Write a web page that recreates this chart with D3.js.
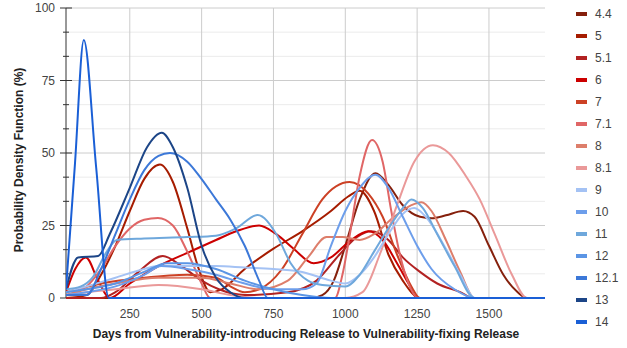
<!DOCTYPE html>
<html>
<head>
<meta charset="utf-8">
<script src="https://cdn.jsdelivr.net/npm/d3@7"></script>
<style>
  body { margin: 0; background: #fff; }
  svg text { font-family: Arial, "Liberation Sans", sans-serif; }
</style>
</head>
<body>
<div id="chart"></div>
<script>
// versions shown in the legend (drawn in this order)
const versions = ["4.4", "5", "5.1", "6", "7", "7.1", "8", "8.1", "9", "10", "11", "12", "12.1", "13", "14"];
const colors = ["#85200c", "#a61c00", "#b22222", "#cc0000", "#cc4125", "#e06666", "#dd7e6b", "#ea9999",
                "#a4c2f4", "#6d9eeb", "#6fa8dc", "#5b95e5", "#3c78d8", "#1c4587", "#1a5fd6"];

// [days, pdf %]
const v44 = [[28,0],[880,0],[920,1],[960,6],[1000,18],[1050,34],[1105,43],[1150,39],[1200,32],[1260,28],[1300,27.5],[1350,28.5],[1410,30],[1450,28],[1500,18],[1550,8],[1600,2],[1632,0],[1695,0]];
const v5 = [[28,0],[100,1],[150,8],[200,18],[250,30],[300,41],[355,46],[400,40],[450,24],[490,10],[530,2],[570,3],[650,10],[750,17],[850,23],[950,30],[1010,35],[1050,37],[1100,30],[1150,15],[1200,6],[1260,0],[1695,0]];
const v51 = [[28,0],[150,0],[200,2],[280,9],[365,14.5],[430,11],[500,6],[560,3],[650,1],[800,2],[900,6],[980,15],[1040,21],[1090,23],[1150,20],[1200,14],[1260,9],[1320,5],[1400,2],[1445,0],[1695,0]];
const v6 = [[28,2],[60,10],[97,14],[140,6],[180,0],[250,5],[350,11],[460,16],[550,20],[620,23],[700,25],[760,22],[820,17],[890,12],[950,14],[1020,20],[1080,23],[1130,20],[1180,12],[1220,5],[1250,0],[1695,0]];
const v7 = [[28,2],[150,5],[300,7],[450,8],[550,7],[600,4],[650,2],[700,3],[780,10],[850,22],[920,34],[1015,40],[1080,36],[1130,28],[1180,15],[1230,4],[1260,0],[1695,0]];
const v71 = [[28,1],[100,4],[150,10],[200,18],[250,24],[300,27],[348,27.6],[400,25],[450,16],[500,5],[530,0],[964,0],[990,8],[1016,22],[1050,42],[1093,54.5],[1130,47],[1160,30],[1190,15],[1220,5],[1253,0],[1695,0]];
const v8 = [[28,1],[100,3],[200,5],[350,7],[500,7],[600,5],[700,3],[800,6],[870,14],[935,21],[990,21],[1050,20],[1100,22],[1170,28],[1230,32],[1265,33],[1300,30],[1350,20],[1400,9],[1450,0],[1695,0]];
const v81 = [[28,1],[100,2],[200,3],[350,4.5],[500,3],[600,1],[700,0],[1000,0],[1060,2],[1120,15],[1180,32],[1240,47],[1305,52.7],[1360,50],[1420,42],[1468,34],[1520,22],[1580,8],[1632,0],[1695,0]];
const v9 = [[28,2],[100,4],[200,7],[300,10],[350,11],[450,11],[550,11],[650,10.5],[750,10],[850,9],[950,6],[1000,5],[1050,8],[1100,14],[1150,22],[1200,29],[1240,31],[1280,28],[1350,17],[1400,8],[1450,0],[1695,0]];
const v10 = [[28,1],[100,2],[200,4],[300,8],[360,11],[450,10],[550,8],[650,5],[750,3],[850,3],[900,5],[950,18],[1000,30],[1050,38],[1105,42.5],[1150,38],[1200,28],[1250,18],[1300,10],[1380,3],[1450,0],[1695,0]];
const v11 = [[28,3],[80,4],[120,7],[170,16],[205,20],[300,20.5],[450,21],[550,21.5],[620,24],[695,28.6],[760,22],[810,12],[870,6],[920,4.5],[1000,4],[1050,8],[1100,16],[1150,24],[1200,31],[1230,34],[1270,31],[1320,22],[1380,11],[1450,0],[1695,0]];
const v12 = [[28,2],[100,3],[200,5],[300,9],[380,12],[450,12],[550,10],[650,6],[750,3],[850,1],[950,0],[1695,0]];
const v121 = [[28,1],[100,1],[150,10],[200,22],[250,34],[300,44],[350,49],[390,50],[450,47],[500,41],[550,34],[600,27],[650,18],[700,6],[730,0],[1695,0]];
const v13 = [[28,3],[70,14],[140,14.5],[180,22],[250,38],[310,52],[361,57],[400,52],[450,38],[500,18],[550,7],[600,2],[650,0],[1695,0]];
const v14 = [[28,3],[59,46],[90,89],[133,45],[177,0],[1695,0]];
const series = [v44, v5, v51, v6, v7, v71, v8, v81, v9, v10, v11, v12, v121, v13, v14];

const xTicks = [250, 500, 750, 1000, 1250, 1500];
const yTicks = [0, 25, 50, 75, 100];

const W = 627, H = 348;
const svg = d3.select("#chart").append("svg")
    .attr("width", W)
    .attr("height", H);

const x = d3.scaleLinear().domain([28, 1695]).range([66, 545]);
const y = d3.scaleLinear().domain([0, 100]).range([298, 8]);

// gridlines
const minor = d3.range(0, 13).map(i => i * 100 / 12);
svg.append("g").selectAll("line")
    .data(minor)
    .enter().append("line")
    .attr("x1", 66).attr("x2", 545)
    .attr("y1", d => y(d)).attr("y2", d => y(d))
    .attr("stroke", (d, i) => i % 3 === 0 ? "#cccccc" : "#ebebeb");

svg.append("g").selectAll("line")
    .data(xTicks)
    .enter().append("line")
    .attr("x1", d => x(d)).attr("x2", d => x(d))
    .attr("y1", 8).attr("y2", 298)
    .attr("stroke", "#cccccc");

// y axis line + ticks
svg.append("line")
    .attr("x1", 66).attr("x2", 66)
    .attr("y1", 8).attr("y2", 298)
    .attr("stroke", "#333");
svg.append("g").selectAll("line")
    .data(minor)
    .enter().append("line")
    .attr("x1", (d, i) => i % 3 === 0 ? 60 : 63)
    .attr("x2", (d, i) => i % 3 === 0 ? 72 : 69)
    .attr("y1", d => y(d)).attr("y2", d => y(d))
    .attr("stroke", "#333");

svg.append("g").selectAll("text")
    .data(yTicks)
    .enter().append("text")
    .attr("x", 55)
    .attr("y", d => y(d) + 4)
    .attr("text-anchor", "end")
    .attr("font-size", 12)
    .attr("fill", "#444")
    .text(d => d);

svg.append("g").selectAll("text")
    .data(xTicks)
    .enter().append("text")
    .attr("x", d => x(d))
    .attr("y", 318)
    .attr("text-anchor", "middle")
    .attr("font-size", 12)
    .attr("fill", "#444")
    .text(d => d);

// baseline
svg.append("line")
    .attr("x1", 66).attr("x2", 545)
    .attr("y1", 298).attr("y2", 298)
    .attr("stroke", "#333");

// axis titles
svg.append("text")
    .attr("x", 306)
    .attr("y", 338)
    .attr("text-anchor", "middle")
    .attr("font-size", 12)
    .attr("font-weight", "bold")
    .attr("fill", "#222")
    .text("Days from Vulnerability-introducing Release to Vulnerability-fixing Release");

svg.append("text")
    .attr("transform", "translate(23,160) rotate(-90)")
    .attr("text-anchor", "middle")
    .attr("font-size", 12)
    .attr("font-weight", "bold")
    .attr("fill", "#222")
    .text("Probability Density Function (%)");

// lines
svg.append("clipPath").attr("id", "plot")
    .append("rect").attr("x", 66).attr("y", 6).attr("width", 480).attr("height", 294);

const line = d3.line()
    .x(d => x(d[0]))
    .y(d => y(d[1]))
    .curve(d3.curveMonotoneX);

svg.append("g")
    .attr("clip-path", "url(#plot)")
    .selectAll("path")
    .data(series)
    .enter().append("path")
    .attr("d", line)
    .attr("fill", "none")
    .attr("stroke", (d, i) => colors[i])
    .attr("stroke-width", 2);

// legend
const legend = svg.append("g").selectAll("g")
    .data(versions)
    .enter().append("g")
    .attr("transform", (d, i) => `translate(576,${14 + i * 22})`);

legend.append("rect")
    .attr("x", 0).attr("y", -2)
    .attr("width", 11).attr("height", 4)
    .attr("fill", (d, i) => colors[i]);

legend.append("text")
    .attr("x", 19)
    .attr("y", 4)
    .attr("font-size", 12)
    .attr("fill", "#444")
    .text(d => d);
</script>
</body>
</html>
